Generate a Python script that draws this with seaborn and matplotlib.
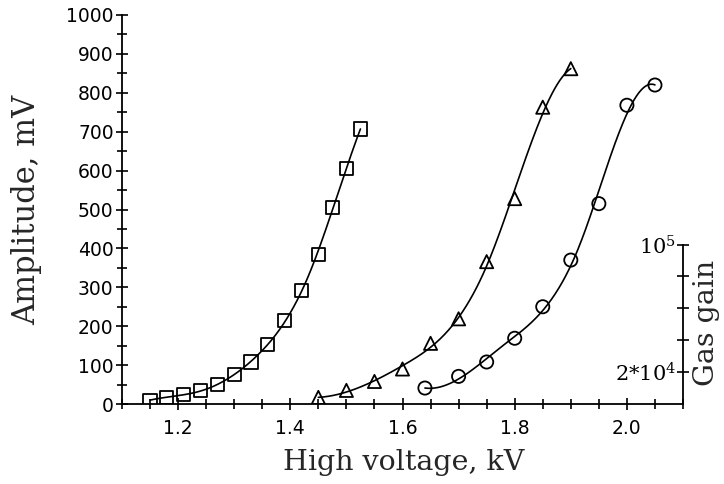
import numpy as np
import pandas as pd
import matplotlib
matplotlib.use("Agg")
import matplotlib.pyplot as plt
import seaborn as sns
from matplotlib.ticker import MultipleLocator, FixedLocator

# ---- data ----
sq_kv = [1.15, 1.18, 1.21, 1.24, 1.27, 1.30, 1.33, 1.36, 1.39, 1.42, 1.45, 1.475, 1.50, 1.525]
sq_mv = [10, 17, 24, 34, 50, 76, 108, 152, 215, 292, 385, 505, 605, 707]

tri_kv = [1.45, 1.50, 1.55, 1.60, 1.65, 1.70, 1.75, 1.80, 1.85, 1.90]
tri_mv = [17, 35, 58, 90, 156, 219, 366, 528, 763, 862]

cir_kv = [1.64, 1.70, 1.75, 1.80, 1.85, 1.90, 1.95, 2.00, 2.05]
cir_mv = [41, 71, 108, 169, 250, 370, 515, 768, 820]

x_major = [1.2, 1.4, 1.6, 1.8, 2.0]
x_labels = ["1.2", "1.4", "1.6", "1.8", "2.0"]
y_major = list(range(0, 1001, 100))
gain_ticks = [2e4, 4e4, 6e4, 8e4, 1e5]
gain_labels = [r"2*10$^4$", "", "", "", r"10$^5$"]
GAIN_PER_MV = 244.0


def fit_curve(x, y, n_knots=2, n=300):
    """Least-squares cubic regression spline (ends weighted): the fitted line."""
    x = np.asarray(x, float)
    y = np.asarray(y, float)
    x0, x1 = x.min(), x.max()
    t = (x - x0) / (x1 - x0)
    knots = np.linspace(0, 1, n_knots + 2)[1:-1]

    def basis(u):
        cols = [np.ones_like(u), u, u**2, u**3]
        cols += [np.clip(u - k, 0, None) ** 3 for k in knots]
        return np.column_stack(cols)

    w = np.ones_like(y)
    w[0] = w[-1] = 4.0
    coef, *_ = np.linalg.lstsq(basis(t) * w[:, None], y * w, rcond=None)
    us = np.linspace(0, 1, n)
    return x0 + us * (x1 - x0), basis(us) @ coef


sns.set_style("ticks")
plt.rcParams["font.family"] = ["DejaVu Sans"]
plt.rcParams["mathtext.fontset"] = "dejavuserif"

fig = plt.figure(figsize=(7.24, 4.84), dpi=100)
ax = fig.add_axes([122 / 724, 1 - 404 / 484, 561 / 724, 389 / 484])

series = [(sq_kv, sq_mv, "s", 3), (tri_kv, tri_mv, "^", 2), (cir_kv, cir_mv, "o", 2)]
for kv, mv, mk, nk in series:
    xs, ys = fit_curve(kv, mv, n_knots=nk)
    curve = pd.DataFrame({"kv": xs, "mv": ys})
    sns.lineplot(data=curve, x="kv", y="mv", ax=ax, color="black", lw=1.2,
                 estimator=None, sort=False)
    pts = pd.DataFrame({"kv": kv, "mv": mv})
    sns.scatterplot(data=pts, x="kv", y="mv", ax=ax, marker=mk, s=90,
                    facecolor="none", edgecolor="black", linewidth=1.3, zorder=3)

ax.set_xlim(1.1, 2.1)
ax.set_ylim(0, 1000)
for s in ["top", "right"]:
    ax.spines[s].set_visible(False)
for s in ["left", "bottom"]:
    ax.spines[s].set_linewidth(1.3)
    ax.spines[s].set_color("black")

ax.xaxis.set_major_locator(FixedLocator(x_major))
ax.set_xticklabels(x_labels)
ax.xaxis.set_minor_locator(MultipleLocator(0.05))
ax.yaxis.set_major_locator(FixedLocator(y_major))
ax.yaxis.set_minor_locator(MultipleLocator(50))
ax.tick_params(axis="both", which="both", direction="inout", color="black",
               width=1.2, labelsize=13.5, labelcolor="black")
ax.tick_params(axis="both", which="major", length=8)
ax.tick_params(axis="both", which="minor", length=7)
ax.tick_params(axis="x", which="major", pad=7)
ax.tick_params(axis="y", which="major", pad=2)

serif = ["DejaVu Serif"]
ax.set_xlabel("High voltage, kV", fontsize=20.5, family=serif)
ax.xaxis.label.set_va("center")
ax.xaxis.set_label_coords((404 - 122) / 561, (404 - 463) / 389)
ax.set_ylabel("Amplitude, mV", fontsize=22, family=serif)
ax.yaxis.label.set_va("center")
ax.yaxis.set_label_coords((27 - 122) / 561, 0.5)

ax2 = ax.twinx()
ax2.set_ylim(0, 1000 * GAIN_PER_MV)
for s in ["top", "left", "bottom"]:
    ax2.spines[s].set_visible(False)
ax2.spines["right"].set_bounds(0, 1e5)
ax2.spines["right"].set_linewidth(1.3)
ax2.spines["right"].set_color("black")
ax2.yaxis.set_major_locator(FixedLocator(gain_ticks))
ax2.set_yticklabels(gain_labels, family=serif, fontsize=15)
ax2.tick_params(axis="y", direction="inout", length=8, width=1.2, color="black",
                pad=-9, labelcolor="black")
for lab in ax2.get_yticklabels():
    lab.set_ha("right")
ax2.set_ylabel("")
fig.text(707 / 724, 1 - 323 / 484, "Gas gain", rotation=90, ha="center",
         va="center", fontsize=20.5, family=serif)

fig.savefig("out.png", dpi=100, facecolor="white")
